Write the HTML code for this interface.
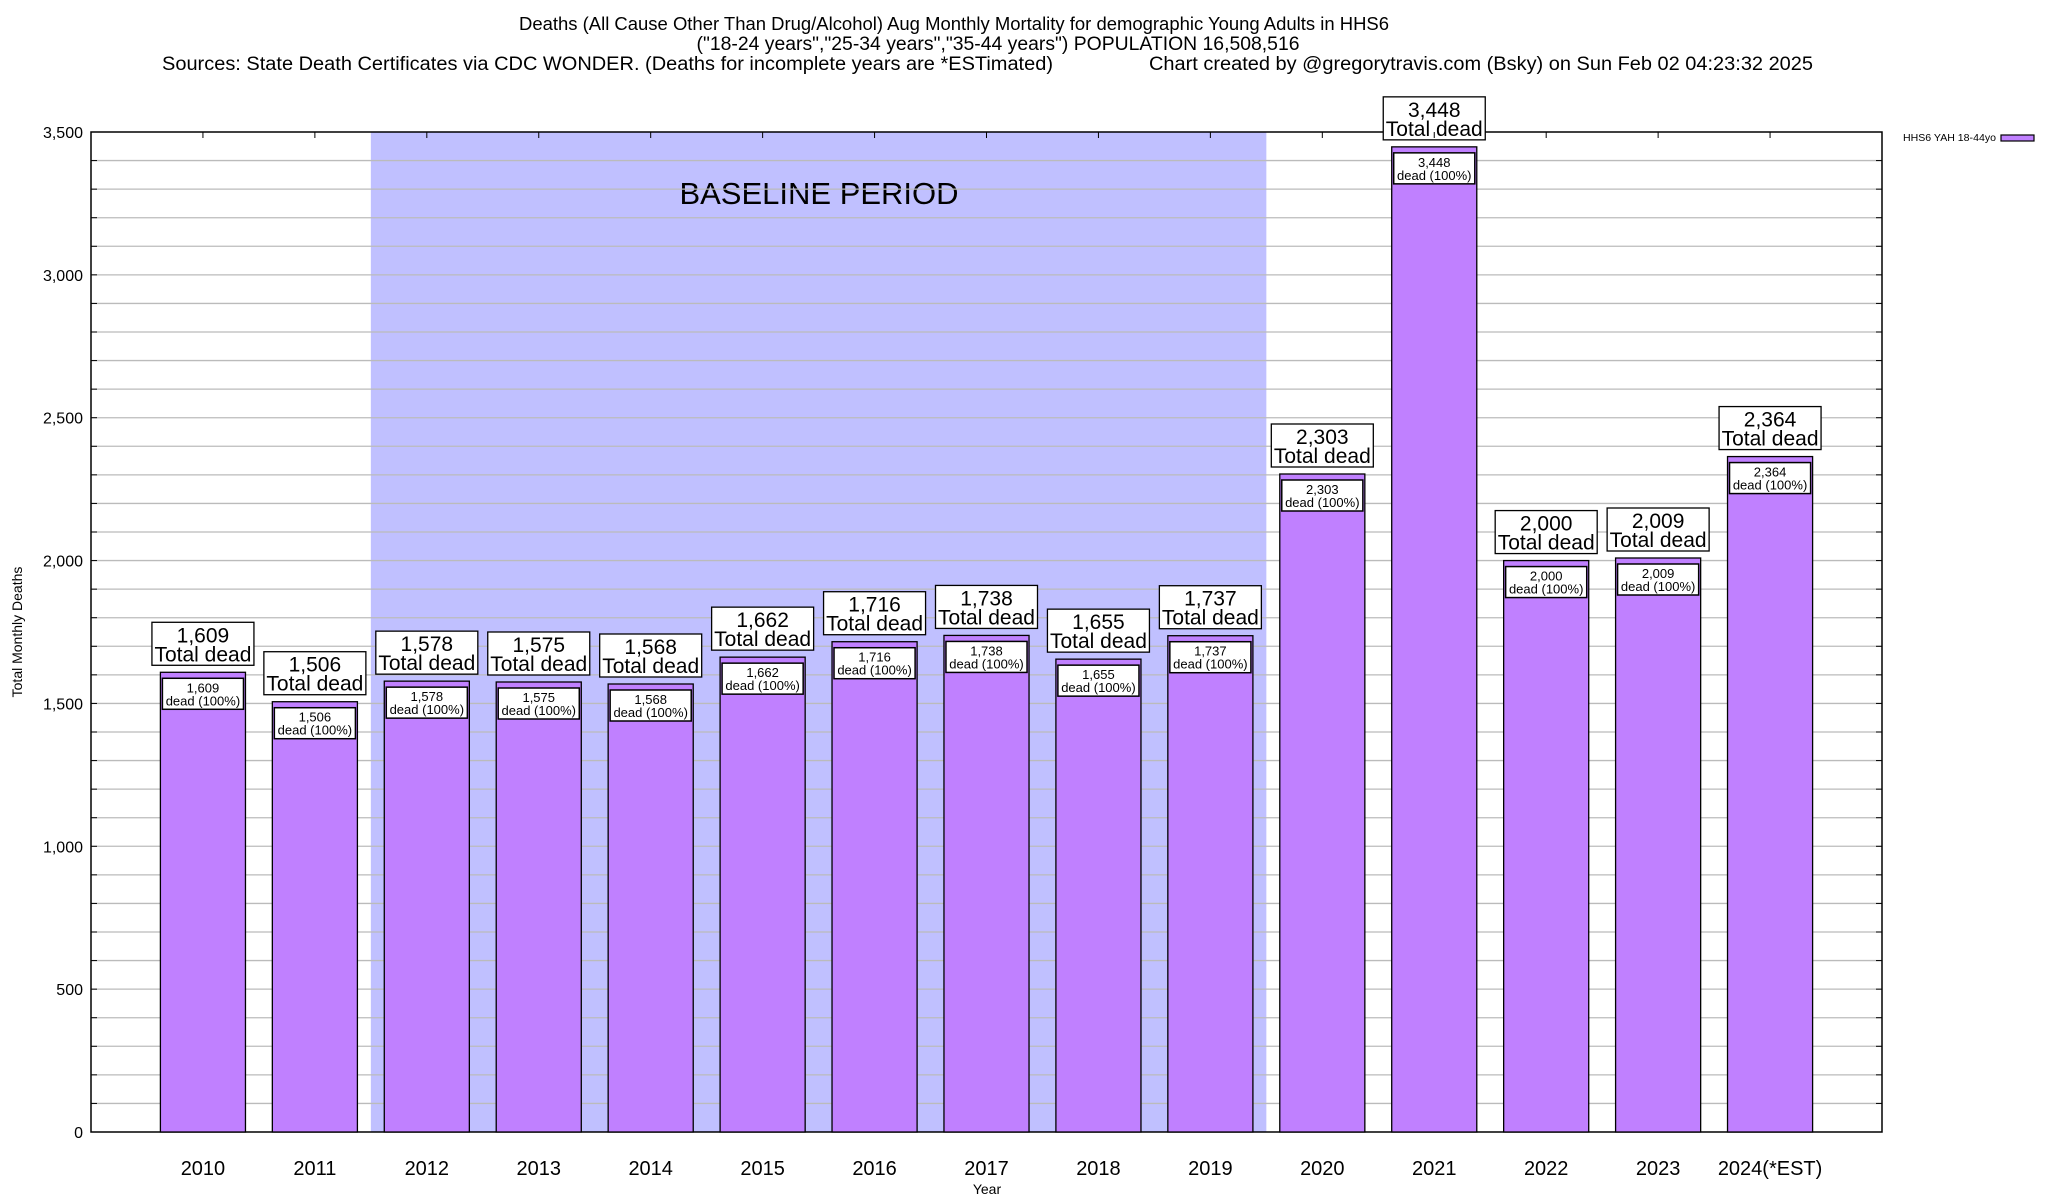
<!DOCTYPE html>
<html><head><meta charset="utf-8">
<style>
body{margin:0;background:#fff;}
svg{display:block;font-family:"Liberation Sans",Arial,sans-serif;}
</style></head>
<body>
<svg id="chart" width="2048" height="1200" viewBox="0 0 2048 1200">
<text x="954" y="30" font-size="18" text-anchor="middle" textLength="870" lengthAdjust="spacingAndGlyphs">Deaths (All Cause Other Than Drug/Alcohol) Aug Monthly Mortality for demographic Young Adults in HHS6</text>
<text x="998" y="50" font-size="19" text-anchor="middle" textLength="603" lengthAdjust="spacingAndGlyphs">("18-24 years","25-34 years","35-44 years") POPULATION 16,508,516</text>
<text x="162" y="70" font-size="19" textLength="891" lengthAdjust="spacingAndGlyphs">Sources: State Death Certificates via CDC WONDER. (Deaths for incomplete years are *ESTimated)</text>
<text x="1149" y="70" font-size="19" textLength="664" lengthAdjust="spacingAndGlyphs">Chart created by @gregorytravis.com (Bsky) on Sun Feb 02 04:23:32 2025</text>
<g id="plot"></g>
<text x="22" y="632" font-size="14" text-anchor="middle" transform="rotate(-90 22 632)">Total Monthly Deaths</text>
<text x="987" y="1194" font-size="14" text-anchor="middle">Year</text>
<text x="1903" y="141" font-size="10" textLength="93" lengthAdjust="spacingAndGlyphs">HHS6 YAH 18-44yo</text>
<rect x="2001" y="135" width="33" height="6" fill="#c080ff" stroke="#000" stroke-width="1.2"/>
</svg>
<script>
const categories = ["2010","2011","2012","2013","2014","2015","2016","2017","2018","2019","2020","2021","2022","2023","2024(*EST)"];
const deaths = [1609,1506,1578,1575,1568,1662,1716,1738,1655,1737,2303,3448,2000,2009,2364];
const yTicks = [0,500,1000,1500,2000,2500,3000,3500];
const yTickLabels = ["0","500","1,000","1,500","2,000","2,500","3,000","3,500"];
const baselineStart = 2012, baselineEnd = 2019;

const NS="http://www.w3.org/2000/svg";
const L=91,R=1882,T=132,B=1132,YMAX=3500;
const step=(R-L)/16;
const xs=i=>L+(i+1)*step;
const ys=v=>B-v/YMAX*(B-T);
const g=document.getElementById('plot');
function mk(tag,attrs,parent){const e=document.createElementNS(NS,tag);for(const k in attrs)e.setAttribute(k,attrs[k]);(parent||g).appendChild(e);return e;}
const fmt=v=>v.toLocaleString('en-US');

// baseline shading
const bi0=categories.indexOf(String(baselineStart)), bi1=categories.indexOf(String(baselineEnd));
const band=mk('rect',{x:xs(bi0)-step/2,y:T,width:(bi1-bi0+1)*step,height:B-T,fill:'#c0c0ff'});


const bt=mk('text',{x:819,y:204,'font-size':31,'text-anchor':'middle'});
bt.textContent='BASELINE PERIOD';



// gridlines
for(let v=100;v<YMAX;v+=100){
  const gl=mk('line',{x1:L,x2:R,y1:ys(v),y2:ys(v),stroke:'#bbb','stroke-width':1.3});
  
  
  mk('line',{x1:L,x2:L+6,y1:ys(v),y2:ys(v),stroke:'#000','stroke-width':1});
  mk('line',{x1:R-6,x2:R,y1:ys(v),y2:ys(v),stroke:'#000','stroke-width':1});
}
yTicks.forEach((v,i)=>{
  const t=mk('text',{x:L-8,y:ys(v)+6,'font-size':16,'text-anchor':'end'});
  t.textContent=yTickLabels[i];
  
  
});

// axes frame (drawn before labels so label boxes overlay it)
const fr=mk('rect',{x:L,y:T,width:R-L,height:B-T,fill:'none',stroke:'#000','stroke-width':1.5});



// bars
const bw=step*0.76;
categories.forEach((c,i)=>{
  const v=deaths[i], x=xs(i), y=ys(v);
  const bar=mk('rect',{x:x-bw/2,y:y,width:bw,height:B-y,fill:'#c080ff',stroke:'#000','stroke-width':1.3});
  
  
  const ib=mk('rect',{x:x-bw/2+2,y:y+6,width:bw-4,height:31,fill:'#fff',stroke:'#000','stroke-width':1.5});
  
  
  const t1=mk('text',{x:x,y:y+20,'font-size':13,'text-anchor':'middle'});t1.textContent=fmt(v);
  
  
  const t2=mk('text',{x:x,y:y+33,'font-size':13,'text-anchor':'middle'});t2.textContent='dead (100%)';
  
  
  const ob=mk('rect',{x:x-51,y:y-50,width:102,height:43,fill:'#fff',stroke:'#000','stroke-width':1.3});
  
  
  const t3=mk('text',{x:x,y:y-30,'font-size':21,'text-anchor':'middle'});t3.textContent=fmt(v);
  
  
  const t4=mk('text',{x:x,y:y-11,'font-size':21,'text-anchor':'middle'});t4.textContent='Total dead';
  
  
  const xl=mk('text',{x:x,y:1175,'font-size':20,'text-anchor':'middle'});xl.textContent=c;
  
  
  mk('line',{x1:x,x2:x,y1:T,y2:T+6,stroke:'#000','stroke-width':1});
});
</script>
</body></html>
